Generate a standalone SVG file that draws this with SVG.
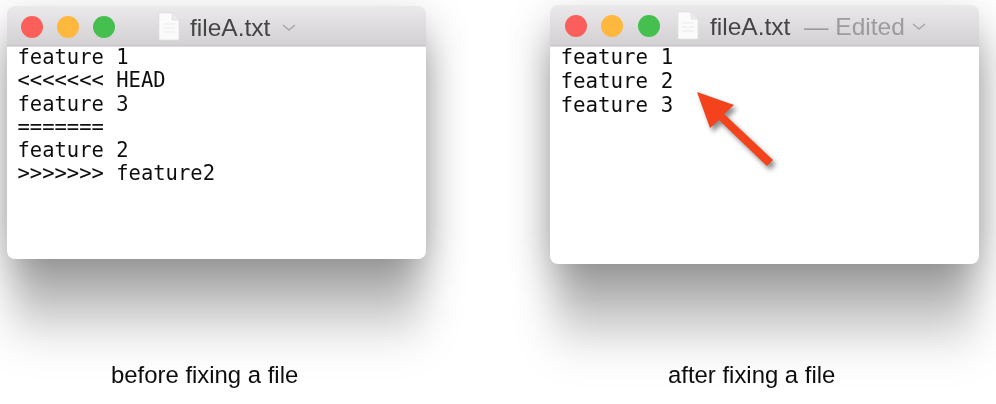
<svg xmlns="http://www.w3.org/2000/svg" width="996" height="404" viewBox="0 0 996 404">
<defs>
<linearGradient id="bar" x1="0" y1="0" x2="0" y2="1"><stop offset="0" stop-color="#ebe9eb"/><stop offset="1" stop-color="#d2d0d2"/></linearGradient>
<linearGradient id="fade1" gradientUnits="userSpaceOnUse" x1="0" y1="240" x2="0" y2="350"><stop offset="0" stop-color="#000" stop-opacity=".42"/><stop offset=".5" stop-color="#000" stop-opacity=".25"/><stop offset="1" stop-color="#000" stop-opacity="0"/></linearGradient>
<linearGradient id="fade2" gradientUnits="userSpaceOnUse" x1="0" y1="245" x2="0" y2="358"><stop offset="0" stop-color="#000" stop-opacity=".42"/><stop offset=".5" stop-color="#000" stop-opacity=".25"/><stop offset="1" stop-color="#000" stop-opacity="0"/></linearGradient>
<filter id="sh" x="-30%" y="-30%" width="160%" height="170%"><feGaussianBlur stdDeviation="20"/></filter>
<filter id="soft" x="-5%" y="-20%" width="110%" height="140%"><feGaussianBlur stdDeviation="0.35"/></filter>
<filter id="arrowsh" x="-30%" y="-30%" width="160%" height="160%"><feGaussianBlur stdDeviation="2.5"/></filter>
<symbol id="doc" viewBox="0 0 21 27" overflow="visible"><path d="M1 0H14L21 7V27H1Z" fill="#fbfbfb" stroke="#dedede" stroke-width="0.7"/><path d="M14 0V7H21" fill="#ececec" stroke="#d6d6d6" stroke-width="0.5"/><path d="M5 11H17M5 15H17M5 19H17" stroke="#ececec" stroke-width="1"/></symbol>
</defs>
<style>
.mono{font-family:"DejaVu Sans Mono","Liberation Mono",monospace;fill:#111}
.title{font-family:"Liberation Sans",Arial,sans-serif;font-size:24.5px;fill:#444}
.cap{font-family:"Liberation Sans",Arial,sans-serif;font-size:23.9px;fill:#111}
.red{fill:#fb5f5b}.yel{fill:#fdb83d}.grn{fill:#45c04f}
.chev{fill:none;stroke:#a8a8a8;stroke-width:1.6}
.win{fill:#fff}
</style>
<rect width="996" height="404" fill="#fff"/>
<g id="window-before">
<rect x="12" y="40" width="410" height="310" rx="16" fill="url(#fade1)" filter="url(#sh)"/>
<rect x="4" y="14" width="425" height="250" rx="10" fill="#000" fill-opacity=".12" filter="url(#sh)"/>
<rect class="win" x="7" y="6" width="419" height="253" rx="8"/>
<path d="M7 46V14a8 8 0 0 1 8-8H418a8 8 0 0 1 8 8V46Z" fill="url(#bar)"/>
<path d="M7 46H426" stroke="#c0bec0" stroke-width="1"/>
<circle class="red" cx="32" cy="27" r="11"/><circle class="yel" cx="68" cy="27" r="11"/><circle class="grn" cx="104" cy="27" r="11"/>
<use href="#doc" x="158" y="13" width="21" height="27"/>
<text class="title" x="190" y="36" filter="url(#soft)">fileA.txt</text>
<path class="chev" d="M283 25L289 30L295 25"/>
<g class="mono" font-size="20.5" filter="url(#soft)">
<text x="17.5" y="64">feature 1</text>
<text x="17.5" y="87">&lt;&lt;&lt;&lt;&lt;&lt;&lt; HEAD</text>
<text x="17.5" y="110.5">feature 3</text>
<text x="17.5" y="133.5">=======</text>
<text x="17.5" y="156.5">feature 2</text>
<text x="17.5" y="180">&gt;&gt;&gt;&gt;&gt;&gt;&gt; feature2</text>
</g>
</g>
<g id="window-after">
<rect x="555" y="40" width="420" height="318" rx="16" fill="url(#fade2)" filter="url(#sh)"/>
<rect x="547" y="13" width="435" height="256" rx="10" fill="#000" fill-opacity=".12" filter="url(#sh)"/>
<rect class="win" x="550" y="5" width="429" height="259" rx="8"/>
<path d="M550 46V13a8 8 0 0 1 8-8H971a8 8 0 0 1 8 8V46Z" fill="url(#bar)"/>
<path d="M550 46H979" stroke="#c0bec0" stroke-width="1"/>
<circle class="red" cx="576" cy="26" r="11"/><circle class="yel" cx="612" cy="26" r="11"/><circle class="grn" cx="649" cy="26" r="11"/>
<use href="#doc" x="677" y="12" width="21" height="27"/>
<text class="title" x="710" y="35" filter="url(#soft)">fileA.txt</text>
<text class="title" x="804" y="35" style="fill:#9c9c9c" filter="url(#soft)">— Edited</text>
<path class="chev" d="M913 24L919 29L925 24"/>
<g class="mono" font-size="20.8" filter="url(#soft)">
<text x="560.5" y="64">feature 1</text>
<text x="560.5" y="88">feature 2</text>
<text x="560.5" y="112">feature 3</text>
</g>
</g>
<g id="connectors">
<path d="M697 92L734 105L724 114L773 160L767 166L719 120L710 128Z" transform="translate(3 4)" fill="#000" fill-opacity=".45" filter="url(#arrowsh)"/>
<path d="M697 92L734 105L724 114L773 160L767 166L719 120L710 128Z" fill="#f4421c"/>
</g>
<g id="caption-before"><text class="cap" x="111" y="383" filter="url(#soft)">before fixing a file</text></g>
<g id="caption-after"><text class="cap" x="668" y="383" filter="url(#soft)">after fixing a file</text></g>
</svg>
